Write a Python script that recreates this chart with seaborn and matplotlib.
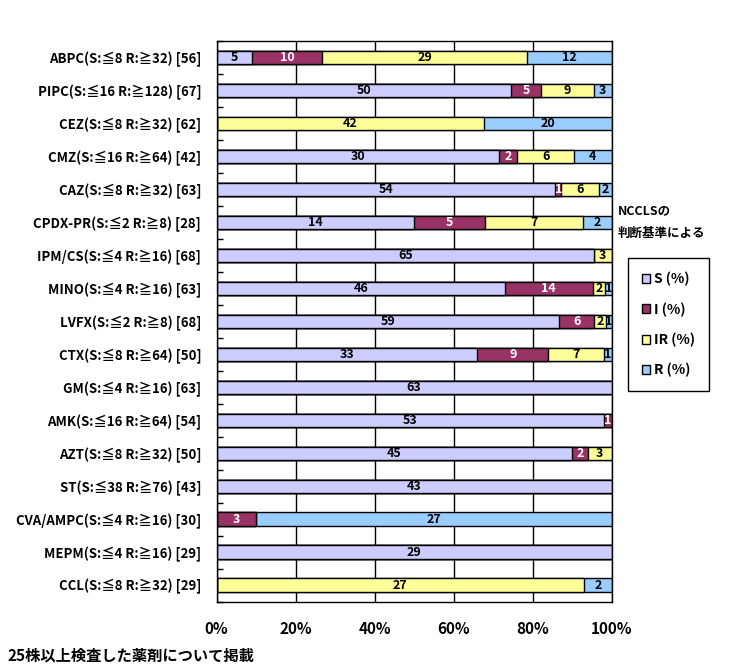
import numpy as np
import pandas as pd
import matplotlib
matplotlib.use("Agg")
import matplotlib.pyplot as plt
import seaborn as sns
from matplotlib.patches import Patch

# Datos (número de cepas por categoría)
drugs = ["ABPC(S:≦8 R:≧32) [56]", "PIPC(S:≦16 R:≧128) [67]", "CEZ(S:≦8 R:≧32) [62]",
         "CMZ(S:≦16 R:≧64) [42]", "CAZ(S:≦8 R:≧32) [63]", "CPDX-PR(S:≦2 R:≧8) [28]",
         "IPM/CS(S:≦4 R:≧16) [68]", "MINO(S:≦4 R:≧16) [63]", "LVFX(S:≦2 R:≧8) [68]",
         "CTX(S:≦8 R:≧64) [50]", "GM(S:≦4 R:≧16) [63]", "AMK(S:≦16 R:≧64) [54]",
         "AZT(S:≦8 R:≧32) [50]", "ST(S:≦38 R:≧76) [43]", "CVA/AMPC(S:≦4 R:≧16) [30]",
         "MEPM(S:≦4 R:≧16) [29]", "CCL(S:≦8 R:≧32) [29]"]
s_counts = [5, 50, 0, 30, 54, 14, 65, 46, 59, 33, 63, 53, 45, 43, 0, 29, 0]
i_counts = [10, 5, 0, 2, 1, 5, 0, 14, 6, 9, 0, 1, 2, 0, 3, 0, 0]
ir_counts = [29, 9, 42, 6, 6, 7, 3, 2, 2, 7, 0, 0, 3, 0, 0, 0, 27]
r_counts = [12, 3, 20, 4, 2, 2, 0, 1, 1, 1, 0, 0, 0, 0, 27, 0, 2]

series = ["S (%)", "I (%)", "IR (%)", "R (%)"]
colors = ["#CCCCFF", "#993366", "#FFFF99", "#99CCFF"]

df = pd.DataFrame({"drug": drugs, "S (%)": s_counts, "I (%)": i_counts,
                   "IR (%)": ir_counts, "R (%)": r_counts})
total = df[series].sum(axis=1)
pct = df[series].div(total, axis=0) * 100
cum = pct.cumsum(axis=1)

sns.set_style("white")
fonts = ["Liberation Sans Narrow", "Noto Sans CJK JP", "DejaVu Sans"]
plt.rcParams["font.family"] = fonts
plt.rcParams["font.weight"] = "bold"
plt.rcParams["text.color"] = "black"
plt.rcParams["xtick.color"] = "black"
plt.rcParams["ytick.color"] = "black"
plt.rcParams["axes.labelcolor"] = "black"

fig = plt.figure(figsize=(7.38, 6.72), dpi=100)
ax = fig.add_axes([216.5 / 738, 1 - 601.5 / 672, 395 / 738, 560.5 / 672])

# barras apiladas: de la acumulada mayor a la menor
for name, col in reversed(list(zip(series, colors))):
    sns.barplot(x=cum[name], y=df["drug"], orient="h", color=col, edgecolor="black",
                linewidth=1, width=0.4, ax=ax, saturation=1)

# etiquetas de cada segmento
for k, name in enumerate(series):
    start = cum[name] - pct[name]
    for j in range(len(df)):
        n = df[name].iloc[j]
        if n > 0:
            ax.text(start.iloc[j] + pct[name].iloc[j] / 2, j, str(n), ha="center", va="center",
                    fontsize=9, fontweight="bold", color="white" if name == "I (%)" else "black")

ax.set_xlim(0, 100)
ax.set_ylim(len(df) - 0.5, -0.5)
ax.set_xticks([0, 20, 40, 60, 80, 100])
ax.set_xticklabels([f"{v}%" for v in [0, 20, 40, 60, 80, 100]], fontsize=11, fontweight="bold")
ax.set_yticks(np.arange(-0.5, len(df), 1), minor=True)
ax.tick_params(axis="y", which="major", length=0, pad=11, labelsize=9.5, labelcolor="black")
ax.tick_params(axis="y", which="minor", direction="in", length=4, left=True, width=1, color="black")
ax.tick_params(axis="x", length=0, pad=14, labelcolor="black")
ax.xaxis.grid(True, color="black", linewidth=1)
ax.set_axisbelow(True)
for sp in ax.spines.values():
    sp.set_color("black")
    sp.set_linewidth(1)
ax.set_xlabel("")
ax.set_ylabel("")

handles = [Patch(facecolor=c, edgecolor="black", linewidth=1) for c in colors]
leg = fig.legend(handles, series, loc="upper left", bbox_to_anchor=(628 / 738, 1 - 258 / 672),
                 frameon=True, fancybox=False, edgecolor="black", framealpha=1,
                 prop={"size": 10, "weight": "bold"}, handlelength=0.6, handleheight=0.6,
                 handletextpad=0.3, labelspacing=1.15, borderpad=1.0, borderaxespad=0)
leg.get_frame().set_linewidth(1)
for t in leg.get_texts():
    t.set_color("black")

fig.text(618 / 738, 1 - 211 / 672, "NCCLSの", fontsize=9, fontweight="bold", va="center")
fig.text(618 / 738, 1 - 233 / 672, "判断基準による", fontsize=9, fontweight="bold", va="center")
fig.text(8 / 738, 1 - 656 / 672, "25株以上検査した薬剤について掲載", fontsize=11,
         fontweight="bold", va="center")

fig.savefig("out.png", dpi=100)
